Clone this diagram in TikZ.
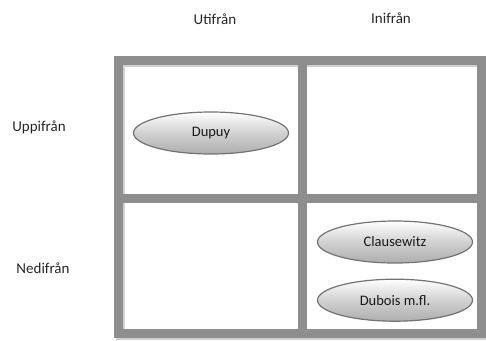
\documentclass[tikz,border=0pt]{standalone}
\usepackage{fontspec}
\setmainfont{Carlito}
\usetikzlibrary{positioning}
\usetikzlibrary{shapes.geometric}
\definecolor{framegray}{HTML}{8E8E8E}
\tikzstyle{headnode} = [font=\fontsize{15}{17}\selectfont, text=black!85]
\tikzstyle{ovalnode} = [draw=black!55, line width=1.2pt, ellipse, minimum width=155pt, minimum height=42pt, top color=white, bottom color=black!32, middle color=black!18, font=\fontsize{14.5}{16}\selectfont, text=black!90]
\tikzstyle{gridline} = [line width=9pt, framegray]

\begin{document}
\begin{tikzpicture}[x=1pt, y=-1pt]
  \useasboundingbox (0,0) rectangle (486,340);

  \coordinate (nw) at (118,60);
  \coordinate (se) at (481,333);
  \coordinate (mid) at (302,198);

  % shadow, then the grid
  \draw[line width=9pt, black!18] ([shift={(2,2)}]nw) rectangle ([shift={(2,2)}]se);
  \draw[gridline] (nw) rectangle (se);
  \draw[gridline] (nw -| mid) -- (se -| mid);
  \draw[gridline] (nw |- mid) -- (se |- mid);

  \node[headnode] (utifran) at (215,19) {Utifrån};
  \node[headnode] (inifran) at (391,18) {Inifrån};
  \node[headnode] (uppifran) at (39,127) {Uppifrån};
  \node[headnode] (nedifran) at (43,268) {Nedifrån};

  \node[ovalnode] (dupuy) at (211,133) {Dupuy};
  \node[ovalnode] (clausewitz) at (395,242) {Clausewitz};
  \node[ovalnode, below=15pt of clausewitz] (dubois) {Dubois m.fl.};
\end{tikzpicture}
\end{document}
